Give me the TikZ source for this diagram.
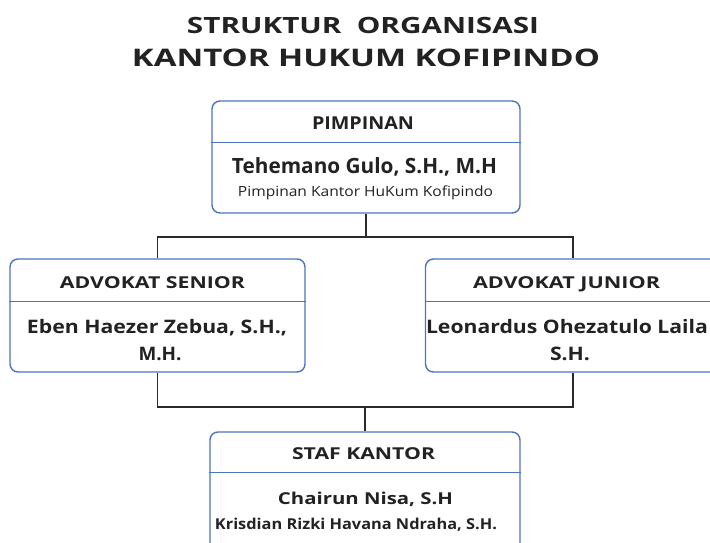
\documentclass[tikz,border=0pt]{standalone}
\usepackage{fontspec}
\usepackage{graphicx}
\setmainfont{Open Sans}
\definecolor{boxblue}{HTML}{4A74C0}
\definecolor{ink}{HTML}{222222}
\definecolor{wire}{HTML}{2A2A2A}
\newcommand{\fitw}[2]{\resizebox{#1}{\height}{#2}}
\begin{document}
\begin{tikzpicture}[x=1pt,y=-1pt,
  orgbox/.style={draw=boxblue, line width=1.4pt, rounded corners=8pt, fill=white, inner sep=0pt},
  wirestyle/.style={draw=wire, line width=1.8pt},
  divider/.style={draw=boxblue, line width=1.2pt},
  txt/.style={text=ink, inner sep=0pt, anchor=base}]
\useasboundingbox (0,0) rectangle (710,542);
\clip (0,0) rectangle (710,542);
% title
\node[txt, font=\bfseries\fontsize{22.4}{26}\selectfont] (t1) at (363,33) {\fitw{352pt}{STRUKTUR\ \ ORGANISASI}};
\node[txt, font=\bfseries\fontsize{24.2}{28}\selectfont] (t2) at (366,66) {\fitw{468pt}{KANTOR\ HUKUM\ KOFIPINDO}};
% boxes
\node[orgbox, minimum width=308pt, minimum height=112pt] (pim) at (366,157) {};
\node[orgbox, minimum width=295pt, minimum height=113pt] (sen) at (157.5,315.5) {};
\node[orgbox, minimum width=295pt, minimum height=113pt] (jun) at (573,315.5) {};
\node[orgbox, minimum width=310pt, minimum height=140pt] (staf) at (365,502) {};
% dividers
\draw[divider] ([yshift=-42pt]pim.north west) -- ([yshift=-42pt]pim.north east);
\draw[divider] ([yshift=-43pt]sen.north west) -- ([yshift=-43pt]sen.north east);
\draw[divider] ([yshift=-43pt]jun.north west) -- ([yshift=-43pt]jun.north east);
\draw[divider] ([yshift=-41pt]staf.north west) -- ([yshift=-41pt]staf.north east);
% texts
\node[txt, font=\bfseries\fontsize{17.8}{20}\selectfont] (pimh) at (363,129) {\fitw{102pt}{PIMPINAN}};
\node[txt, font=\bfseries\fontsize{21}{24}\selectfont] (pimn) at (364.5,173) {\fitw{265pt}{Tehemano Gulo, S.H., M.H}};
\node[txt, font=\fontsize{14}{16}\selectfont] (pims) at (365.5,196) {\fitw{255pt}{Pimpinan Kantor HuKum Kofipindo}};
\node[txt, font=\bfseries\fontsize{16.4}{19}\selectfont] (senh) at (152.5,288) {\fitw{185pt}{ADVOKAT SENIOR}};
\node[txt, font=\bfseries\fontsize{18.6}{21}\selectfont] (senn1) at (157,333) {\fitw{260pt}{Eben Haezer Zebua, S.H.,}};
\node[txt, font=\bfseries\fontsize{18.6}{21}\selectfont] (senn2) at (160,360) {\fitw{43pt}{M.H.}};
\node[txt, font=\bfseries\fontsize{16.4}{19}\selectfont] (junh) at (566.5,288) {\fitw{187pt}{ADVOKAT JUNIOR}};
\node[txt, font=\bfseries\fontsize{18.6}{21}\selectfont] (junn1) at (567,333) {\fitw{282pt}{Leonardus Ohezatulo Laila}};
\node[txt, font=\bfseries\fontsize{18.6}{21}\selectfont] (junn2) at (570,360) {\fitw{40pt}{S.H.}};
\node[txt, font=\bfseries\fontsize{16.4}{19}\selectfont] (stafh) at (363.5,459) {\fitw{143pt}{STAF KANTOR}};
\node[txt, font=\bfseries\fontsize{16.4}{19}\selectfont] (stafn) at (365.5,504) {\fitw{175pt}{Chairun Nisa, S.H}};
\node[txt, font=\bfseries\fontsize{15}{18}\selectfont] (stafs) at (356,529) {\fitw{282pt}{Krisdian Rizki Havana Ndraha, S.H.}};
% connectors
\coordinate (j1) at (366,237);
\coordinate (j2) at (365,407);
\draw[wirestyle] (pim.south) -- (j1);
\draw[wirestyle] (sen.north) |- (j1) -| (jun.north);
\draw[wirestyle] (sen.south) |- (j2) -| (jun.south);
\draw[wirestyle] (j2) -- (staf.north);
\end{tikzpicture}
\end{document}
